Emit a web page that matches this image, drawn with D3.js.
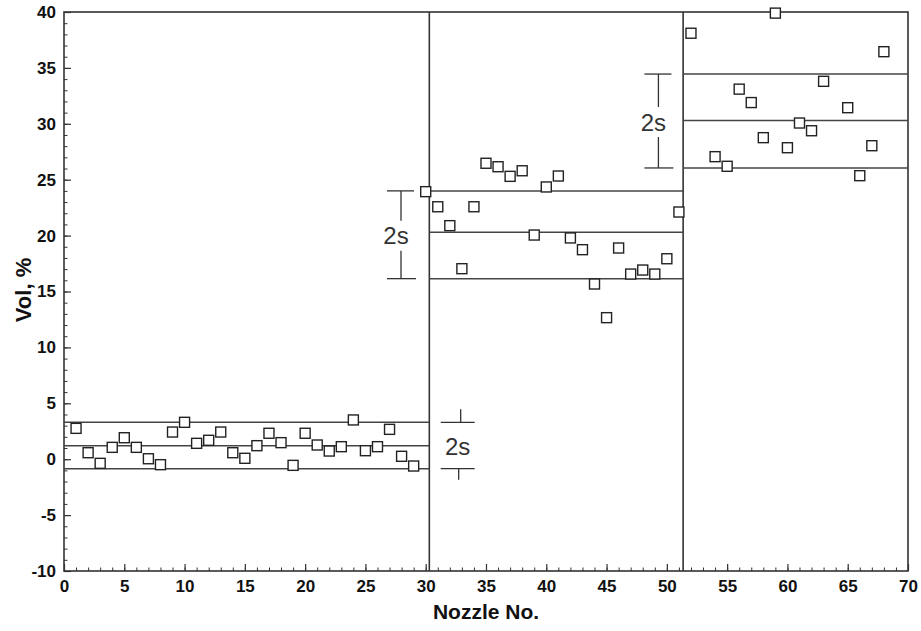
<!DOCTYPE html>
<html>
<head>
<meta charset="utf-8">
<script src="https://cdn.jsdelivr.net/npm/d3@7"></script>
<style>
  html, body { margin: 0; padding: 0; background: #fff; }
  svg { display: block; }
</style>
</head>
<body>
<svg id="chart" width="921" height="631"></svg>
<script>
// Nozzle numbers and measured volume (%) for each of the three groups
const group1Nozzles = [1,2,3,4,5,6,7,8,9,10,11,12,13,14,15,16,17,18,19,20,21,22,23,24,25,26,27,28,29];
const group1Values  = [2.76,0.58,-0.37,1.06,1.92,1.06,0.04,-0.49,2.43,3.30,1.42,1.69,2.43,0.58,0.08,1.21,2.32,1.48,-0.55,2.32,1.27,0.73,1.12,3.51,0.76,1.12,2.67,0.26,-0.61];

const group2Nozzles = [30,31,32,33,34,35,36,37,38,39,40,41,42,43,44,45,46,47,48,49,50,51];
const group2Values  = [23.93,22.58,20.89,17.04,22.58,26.47,26.16,25.3,25.8,20.05,24.35,25.33,19.79,18.74,15.67,12.66,18.89,16.56,16.92,16.56,17.93,22.11];

const group3Nozzles = [52,54,55,56,57,58,59,60,61,62,63,65,66,67,68];
const group3Values  = [38.1,27.06,26.2,33.1,31.9,28.76,39.9,27.86,30.07,29.38,33.8,31.44,25.36,28.04,36.45];

// Group boundaries (nozzle axis) and the mean / upper / lower reference lines
const groupStart = [0, 30.3, 51.35];
const groupEnd   = [30.3, 51.35, 70];
const groupMean  = [1.2, 20.3, 30.3];
const groupUpper = [3.3, 24.0, 34.45];
const groupLower = [-0.85, 16.15, 26.05];

// Position of each "2s" dimension marker (nozzle axis)
const bracketX     = [32.9, 27.95, 49.3];
const bracketLabel = ["2s", "2s", "2s"];

const xTicksMajor = d3.range(0, 71, 5);
const xTicksMinor = d3.range(0, 71, 1);
const yTicksMajor = d3.range(-10, 41, 5);
const yTicksMinor = d3.range(-10, 41, 1);

const svg = d3.select("#chart");
const plotLeft = 64, plotRight = 908, plotTop = 12, plotBottom = 571;
const ink = "#333";

const x = d3.scaleLinear().domain([0, 70]).range([plotLeft, plotRight]);
const y = d3.scaleLinear().domain([-10, 40]).range([plotBottom, plotTop]);

const font = "'Liberation Sans', Arial, Helvetica, sans-serif";

// Minor ticks (inward)
svg.append("g").attr("transform", `translate(0,${plotBottom})`)
  .call(d3.axisBottom(x).tickValues(xTicksMinor).tickSize(-3.5).tickFormat(""))
  .call(g => g.select(".domain").remove())
  .call(g => g.selectAll("line").attr("stroke", ink).attr("stroke-width", 1));
svg.append("g").attr("transform", `translate(${plotLeft},0)`)
  .call(d3.axisLeft(y).tickValues(yTicksMinor).tickSize(-3.5).tickFormat(""))
  .call(g => g.select(".domain").remove())
  .call(g => g.selectAll("line").attr("stroke", ink).attr("stroke-width", 1));

// Major ticks with labels
svg.append("g").attr("transform", `translate(0,${plotBottom})`)
  .call(d3.axisBottom(x).tickValues(xTicksMajor).tickSize(-7).tickPadding(9).tickFormat(d => String(d)))
  .call(g => g.select(".domain").remove())
  .call(g => g.selectAll("line").attr("stroke", ink).attr("stroke-width", 1.2))
  .call(g => g.selectAll("text").attr("fill", "#111").attr("font-family", font)
    .attr("font-size", 17).attr("font-weight", "bold"));
svg.append("g").attr("transform", `translate(${plotLeft},0)`)
  .call(d3.axisLeft(y).tickValues(yTicksMajor).tickSize(-7).tickPadding(8).tickFormat(d => String(d)))
  .call(g => g.select(".domain").remove())
  .call(g => g.selectAll("line").attr("stroke", ink).attr("stroke-width", 1.2))
  .call(g => g.selectAll("text").attr("fill", "#111").attr("font-family", font)
    .attr("font-size", 17).attr("font-weight", "bold"));

// Plot frame
svg.append("rect")
  .attr("x", x(0)).attr("y", y(40))
  .attr("width", x(70) - x(0)).attr("height", y(-10) - y(40))
  .attr("fill", "none").attr("stroke", ink).attr("stroke-width", 1.6);

// Group dividers
svg.append("g").selectAll("line").data(groupStart.slice(1)).join("line")
  .attr("x1", d => x(d)).attr("x2", d => x(d))
  .attr("y1", y(40)).attr("y2", y(-10))
  .attr("stroke", ink).attr("stroke-width", 1.6);

// Mean and ±2s reference lines
const refLines = [];
groupStart.forEach((s, i) => {
  [groupUpper[i], groupMean[i], groupLower[i]].forEach(v => refLines.push({ x0: s, x1: groupEnd[i], v }));
});
svg.append("g").selectAll("line").data(refLines).join("line")
  .attr("x1", d => x(d.x0)).attr("x2", d => x(d.x1))
  .attr("y1", d => y(d.v)).attr("y2", d => y(d.v))
  .attr("stroke", "#444").attr("stroke-width", 1.5);

// Data points as open squares
const points = [];
[[group1Nozzles, group1Values], [group2Nozzles, group2Values], [group3Nozzles, group3Values]]
  .forEach(([n, v]) => n.forEach((d, i) => points.push({ n: d, v: v[i] })));
const sq = 10;
svg.append("g").selectAll("rect").data(points).join("rect")
  .attr("x", d => x(d.n) - sq / 2).attr("y", d => y(d.v) - sq / 2)
  .attr("width", sq).attr("height", sq)
  .attr("fill", "#fff").attr("stroke", "#222").attr("stroke-width", 1.4);

// "2s" dimension markers
const bracketG = svg.append("g").attr("stroke", ink).attr("stroke-width", 1.3);
const halfBar = 15;
// group 1: ticks pointing inward from outside the limits
{
  const cx = x(bracketX[0]), yt = y(groupUpper[0]), yb = y(groupLower[0]);
  bracketG.append("line").attr("x1", cx - 20).attr("x2", cx + 14).attr("y1", yt).attr("y2", yt);
  bracketG.append("line").attr("x1", cx - 20).attr("x2", cx + 14).attr("y1", yb).attr("y2", yb);
  bracketG.append("line").attr("x1", cx).attr("x2", cx).attr("y1", yt - 13).attr("y2", yt);
  bracketG.append("line").attr("x1", cx - 2).attr("x2", cx - 2).attr("y1", yb).attr("y2", yb + 11);
  svg.append("text").attr("x", cx - 3).attr("y", (yt + yb) / 2 + 1)
    .attr("text-anchor", "middle").attr("dominant-baseline", "central")
    .attr("font-family", font).attr("font-size", 24).attr("fill", "#333").text(bracketLabel[0]);
}
// groups 2 and 3: I-beam spanning the limits with the label in the middle
[1, 2].forEach(i => {
  const cx = x(bracketX[i]), yt = y(groupUpper[i]), yb = y(groupLower[i]);
  const ym = (yt + yb) / 2;
  bracketG.append("line").attr("x1", cx - halfBar + 1).attr("x2", cx + halfBar - 2).attr("y1", yt).attr("y2", yt);
  bracketG.append("line").attr("x1", cx - halfBar + 1).attr("x2", cx + halfBar).attr("y1", yb).attr("y2", yb);
  bracketG.append("line").attr("x1", cx).attr("x2", cx).attr("y1", yt).attr("y2", ym - 14);
  bracketG.append("line").attr("x1", cx).attr("x2", cx).attr("y1", ym + 16).attr("y2", yb);
  svg.append("text").attr("x", cx - 5).attr("y", ym + 1)
    .attr("text-anchor", "middle").attr("dominant-baseline", "central")
    .attr("font-family", font).attr("font-size", 24).attr("fill", "#333").text(bracketLabel[i]);
});

// Axis titles
svg.append("text").attr("x", 486).attr("y", 619).attr("text-anchor", "middle")
  .attr("font-family", font).attr("font-size", 21).attr("font-weight", "bold").attr("fill", "#111")
  .text("Nozzle No.");
svg.append("text").attr("transform", "translate(31,290) rotate(-90)").attr("text-anchor", "middle")
  .attr("font-family", font).attr("font-size", 22).attr("font-weight", "bold").attr("fill", "#111")
  .text("Vol, %");
</script>
</body>
</html>
